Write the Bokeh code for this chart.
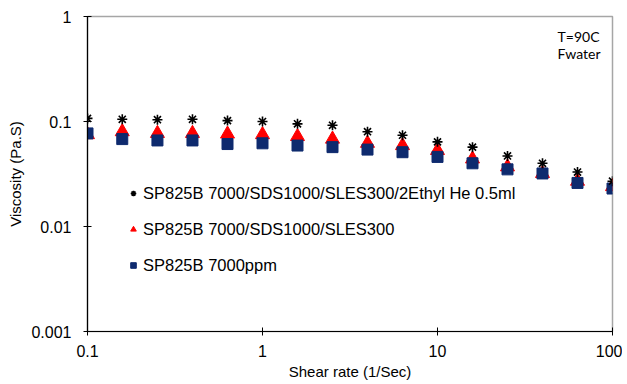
from bokeh.plotting import figure
from bokeh.models import FixedTicker, Legend, LegendItem, Label, ColumnDataSource
from bokeh.embed import file_html
from bokeh.resources import INLINE

# Data
shear_rate = [0.1, 0.158, 0.251, 0.398, 0.631, 1.0, 1.585, 2.512, 3.981, 6.31,
              10.0, 15.85, 25.12, 39.81, 63.1, 100.0]
visc_ethyl = [0.107, 0.105, 0.104, 0.105, 0.102, 0.100, 0.095, 0.092, 0.080, 0.074,
              0.064, 0.057, 0.047, 0.040, 0.033, 0.027]
visc_sles = [0.075, 0.080, 0.077, 0.077, 0.076, 0.075, 0.072, 0.068, 0.062, 0.059,
             0.053, 0.044, 0.037, 0.032, 0.027, 0.024]
visc_ppm = [0.077, 0.068, 0.066, 0.066, 0.061, 0.062, 0.059, 0.057, 0.054, 0.051,
            0.046, 0.040, 0.035, 0.032, 0.026, 0.023]

series_labels = ["SP825B 7000/SDS1000/SLES300/2Ethyl He 0.5ml",
                 "SP825B 7000/SDS1000/SLES300",
                 "SP825B 7000ppm"]
x_ticks = [0.1, 1, 10, 100]
y_ticks = [0.001, 0.01, 0.1, 1]
x_tick_labels = ["0.1", "1", "10", "100"]
y_tick_labels = ["0.001", "0.01", "0.1", "1"]
x_title = "Shear rate (1/Sec)"
y_title = "Viscosity (Pa.S)"

FONT = "Liberation Sans"

p = figure(width=622, height=382, x_axis_type="log", y_axis_type="log",
           x_range=(0.1, 100), y_range=(0.001, 1),
           output_backend="svg", toolbar_location=None,
           min_border_left=87, min_border_right=10, min_border_top=16, min_border_bottom=51)

p.xgrid.visible = False
p.ygrid.visible = False
p.outline_line_color = "#a6a6a6"
p.outline_line_width = 1.5

src = ColumnDataSource(dict(x=shear_rate, a=visc_ethyl, b=visc_sles, c=visc_ppm))

r_tri = p.scatter("x", "b", source=src, marker="triangle", size=14,
                  fill_color="#ff0000", line_color="#ff0000")
r_sq = p.scatter("x", "c", source=src, marker="square", size=11,
                 fill_color="#0e2a6e", line_color="#0e2a6e")
r_ast = p.scatter("x", "a", source=src, marker="asterisk", size=10,
                  line_color="black", line_width=1.6)

for ax, ticks, labels in ((p.xaxis, x_ticks, x_tick_labels), (p.yaxis, y_ticks, y_tick_labels)):
    ax.ticker = FixedTicker(ticks=ticks, minor_ticks=[])
    ax.major_label_overrides = {t: l for t, l in zip(ticks, labels)}
    ax.axis_line_color = "black"
    ax.axis_line_width = 1.2
    ax.major_tick_line_color = "black"
    ax.major_tick_in = 4
    ax.major_tick_out = 4
    ax.major_label_text_font = FONT
    ax.major_label_text_font_size = "16px"
    ax.major_label_text_color = "black"
    ax.axis_label_text_font = FONT
    ax.axis_label_text_font_size = "15px"
    ax.axis_label_text_font_style = "normal"
    ax.axis_label_text_color = "black"

p.xaxis.axis_label = x_title
p.yaxis.axis_label = y_title
p.xaxis.major_label_standoff = 9
p.xaxis.axis_label_standoff = 3
p.yaxis.major_label_standoff = 12
p.yaxis.axis_label_standoff = 4

legend = Legend(items=[LegendItem(label=series_labels[0], renderers=[r_ast]),
                       LegendItem(label=series_labels[1], renderers=[r_tri]),
                       LegendItem(label=series_labels[2], renderers=[r_sq])],
                location=(39, 56), orientation="vertical",
                border_line_color=None, background_fill_alpha=0,
                padding=0, margin=0, spacing=16,
                glyph_width=14, glyph_height=20, label_height=20,
                label_standoff=3,
                label_text_font=FONT, label_text_font_size="16.5px",
                label_text_color="black")
p.add_layout(legend, "center")

for txt, yy in (("T=90C", 295), ("Fwater", 278)):
    p.add_layout(Label(x=470, y=yy, x_units="screen", y_units="screen",
                       text=txt, text_font="Lato", text_font_size="14px",
                       text_color="black", text_baseline="middle"))

open("out.html", "w").write(file_html(p, INLINE))
